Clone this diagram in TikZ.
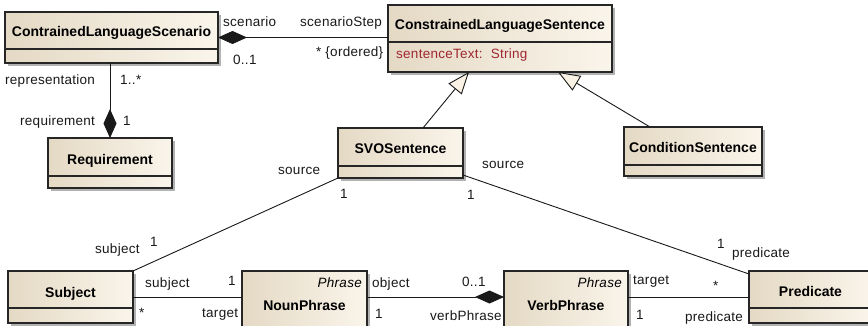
\documentclass[tikz,border=0pt]{standalone}
\usepackage{fontspec}
\setmainfont{Liberation Sans}
\newfontfamily\lblfont[LetterSpace=2]{Liberation Sans}
\usetikzlibrary{arrows.meta,shadows,calc}
\definecolor{boxL}{RGB}{228,217,196}
\definecolor{boxR}{RGB}{250,245,235}
\definecolor{attr}{RGB}{160,40,48}
\definecolor{shad}{RGB}{178,178,178}
\definecolor{tri}{RGB}{250,242,228}
\begin{document}
\begin{tikzpicture}[x=1pt,y=-1pt,
  cls/.style={draw=black!85, line width=1.1pt, rectangle, inner sep=0pt, outer sep=0pt,
    left color=boxL, right color=boxR,
    drop shadow={shadow xshift=3pt, shadow yshift=-3pt, fill=shad, opacity=1}, anchor=north west},
  title/.style={font=\fontsize{14}{16}\selectfont\bfseries, inner sep=0pt, anchor=base},
  stereo/.style={font=\lblfont\fontsize{13.5}{16}\selectfont\itshape, inner sep=0pt, anchor=base east},
  lbl/.style={font=\lblfont\fontsize{13.5}{16}\selectfont, inner sep=0pt, text=black!90, anchor=base west},
  sep/.style={draw=black!85, line width=1.1pt},
  conn/.style={line width=0.9pt, draw=black!90},
  comp/.style={conn, {Diamond[length=29pt,width=13pt]}-},
  compend/.style={conn, -{Diamond[length=29pt,width=13pt]}},
  gen/.style={conn, -{Triangle[length=22pt,width=17pt,fill=tri]}},
]
\useasboundingbox (0,0) rectangle (868,326);
\clip (0,0) rectangle (868,326);
\fill[white] (0,0) rectangle (868,326);

% classes
\node[cls, minimum width=213pt, minimum height=51pt] (cls) at (5,12) {};
\draw[sep] ($(cls.south west)+(0,-14)$) -- ($(cls.south east)+(0,-14)$);
\node[title] (clsT) at ($(cls.north)+(0,25)$) {ContrainedLanguageScenario};

\node[cls, minimum width=224pt, minimum height=67pt] (sent) at (388,5) {};
\draw[sep] ($(sent.south west)+(0,-30)$) -- ($(sent.south east)+(0,-30)$);
\node[title] (sentT) at ($(sent.north)+(0,25)$) {ConstrainedLanguageSentence};
\node[lbl, text=attr] (sentA) at ($(sent.north west)+(8,54)$) {sentenceText:\ \ String};

\node[cls, minimum width=124pt, minimum height=50pt] (req) at (48,138) {};
\draw[sep] ($(req.south west)+(0,-12)$) -- ($(req.south east)+(0,-12)$);
\node[title] (reqT) at ($(req.north)+(0,27)$) {Requirement};

\node[cls, minimum width=125pt, minimum height=50pt] (svo) at (338,128) {};
\draw[sep] ($(svo.south west)+(0,-12)$) -- ($(svo.south east)+(0,-12)$);
\node[title] (svoT) at ($(svo.north)+(0,26)$) {SVOSentence};

\node[cls, minimum width=138pt, minimum height=49pt] (cond) at (624,127) {};
\draw[sep] ($(cond.south west)+(0,-11)$) -- ($(cond.south east)+(0,-11)$);
\node[title] (condT) at ($(cond.north)+(0,26)$) {ConditionSentence};

\node[cls, minimum width=125pt, minimum height=52pt] (subj) at (8,271) {};
\draw[sep] ($(subj.south west)+(0,-15)$) -- ($(subj.south east)+(0,-15)$);
\node[title] (subjT) at ($(subj.north)+(0,26)$) {Subject};

\node[cls, minimum width=125pt, minimum height=60pt] (noun) at (242,271) {};
\node[title] (nounT) at ($(noun.north)+(0,39)$) {NounPhrase};
\node[stereo] (nounS) at ($(noun.north east)+(-5,16)$) {Phrase};

\node[cls, minimum width=124pt, minimum height=60pt] (verb) at (504,271) {};
\node[title] (verbT) at ($(verb.north)+(0,39)$) {VerbPhrase};
\node[stereo] (verbS) at ($(verb.north east)+(-6,16)$) {Phrase};

\node[cls, minimum width=123pt, minimum height=52pt] (pred) at (749,271) {};
\draw[sep] ($(pred.south west)+(0,-15)$) -- ($(pred.south east)+(0,-15)$);
\node[title] (predT) at ($(pred.north)+(0,25)$) {Predicate};

% connectors
\draw[comp] (cls.east) -- (cls.east -| sent.west);
\draw[comp] (req.north) -- (req.north |- cls.south);
\draw[gen] ($(svo.north)+(22.5,0)$) -- ($(sent.south)+(-31,0)$);
\draw[gen] ($(cond.north)+(-43,0)$) -- ($(sent.south)+(58,0)$);
\draw[conn] (svo.south west) -- (subj.north east);
\draw[conn] ($(svo.south east)+(0,-3)$) -- ($(pred.north west)+(0,3)$);
\draw[conn] (subj.east) -- (noun.west |- subj.east);
\draw[compend] (noun.east |- subj.east) -- (verb.west |- subj.east);
\draw[conn] (verb.east |- subj.east) -- (pred.west |- subj.east);

% labels
\node[lbl] (l1) at (223,27) {scenario};
\node[lbl] (l2) at (300,27) {scenarioStep};
\node[lbl] (l3) at (233,65) {0..1};
\node[lbl] (l4) at (316,57) {* \{ordered\}};
\node[lbl] (l5) at (5,85) {representation};
\node[lbl] (l6) at (120,85) {1..*};
\node[lbl] (l7) at (20,126) {requirement};
\node[lbl] (l8) at (123,126) {1};
\node[lbl] (l9) at (278,175) {source};
\node[lbl] (l10) at (340,199) {1};
\node[lbl] (l11) at (482,169) {source};
\node[lbl] (l12) at (467,200) {1};
\node[lbl] (l13) at (95,253) {subject};
\node[lbl] (l14) at (150,247) {1};
\node[lbl] (l15) at (717,248) {1};
\node[lbl] (l16) at (732,257) {predicate};
\node[lbl] (l17) at (145,287) {subject};
\node[lbl] (l18) at (228,285) {1};
\node[lbl] (l19) at (139,317) {*};
\node[lbl] (l20) at (202,317) {target};
\node[lbl] (l21) at (372,287) {object};
\node[lbl] (l22) at (375,318) {1};
\node[lbl] (l23) at (462,286) {0..1};
\node[lbl] (l24) at (430,320) {verbPhrase};
\node[lbl] (l25) at (633,284) {target};
\node[lbl] (l26) at (636,319) {1};
\node[lbl] (l27) at (713,290) {*};
\node[lbl] (l28) at (685,321) {predicate};
\end{tikzpicture}
\end{document}
